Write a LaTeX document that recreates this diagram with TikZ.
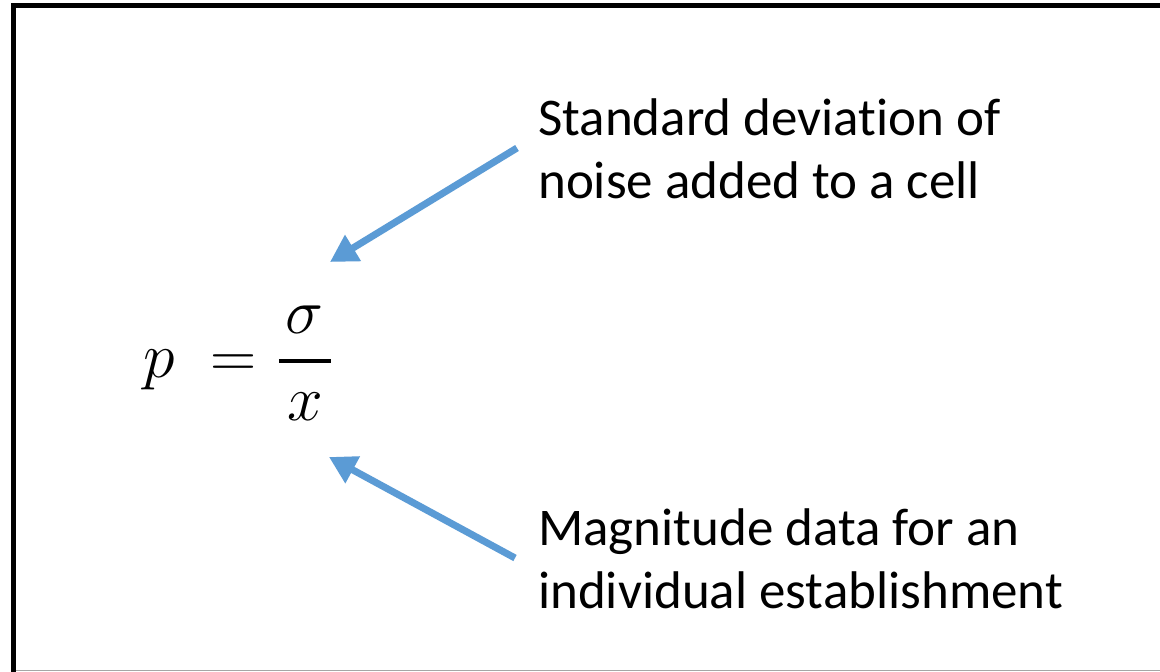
\RequirePackage{fix-cm}
\documentclass[tikz,border=0pt]{standalone}
\usepackage{fontspec}
\setmainfont{Carlito}[Ligatures=NoCommon]
\usetikzlibrary{arrows.meta}
\definecolor{arrowblue}{HTML}{5B9BD5}
\begin{document}
\begin{tikzpicture}[x=1pt,y=-1pt,
  label text/.style={anchor=base west,inner sep=0pt,align=left,font=\fontsize{53}{63}\selectfont},
  pointer/.style={draw=arrowblue,line width=7pt,-{Triangle[length=27pt,width=29pt]}}]
\useasboundingbox (0,0) rectangle (1160,672);
\fill[white] (0,0) rectangle (1160,672);
\draw[line width=5pt] (13.5,672) -- (13.5,5.5) -- (1160,5.5);
\draw[gray!70,line width=1pt] (16,670.5) -- (1160,670.5);
\node[anchor=base west,inner sep=0pt,font=\fontsize{64}{70}\selectfont] (eq) at (143,377) {$\displaystyle p\mskip5mu=\mskip1mu{\mskip2mu\sigma\mskip2mu\above 4pt\mskip2mu x\mskip2mu}$};
\node[label text] (top) at (538,198) {Standard deviation of\\noise added to a cell};
\node[label text] (bot) at (538,608) {Magnitude data for an\\individual establishment};
\coordinate (ts) at (517,148);
\coordinate (te) at (330,262);
\coordinate (bs) at (515,558);
\coordinate (be) at (329,457);
\draw[pointer] (ts) -- (te);
\draw[pointer] (bs) -- (be);
\end{tikzpicture}
\end{document}
